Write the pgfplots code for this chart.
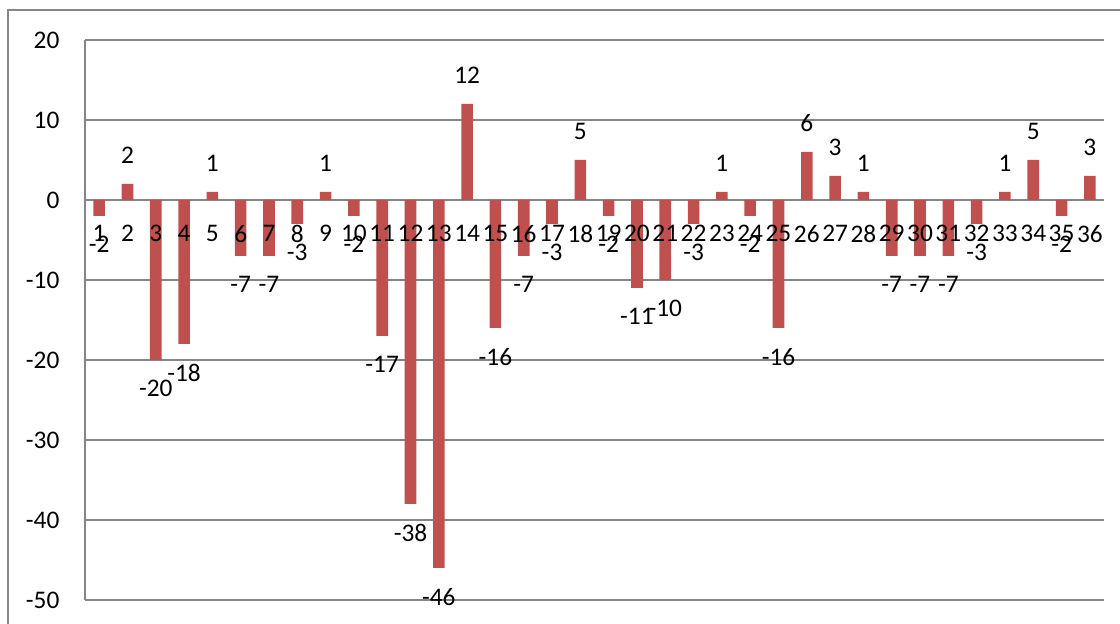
\documentclass[border=0pt]{standalone}
\usepackage{pgfplots}
\pgfplotsset{compat=1.18}
\usepackage{fontspec}
\setmainfont{Carlito}
\definecolor{barred}{HTML}{C0504D}
\definecolor{linegray}{HTML}{868686}

% shared geometry of the plot area
\pgfplotsset{
  chartbox/.style={
    at={(63.75pt,18pt)}, anchor=south west,
    scale only axis, width=764.25pt, height=420pt,
    xmin=0.5, xmax=36.5, ymin=-50, ymax=20,
    major tick length=0pt,
    tick label style={font=\fontsize{19}{22}\selectfont},
    /pgf/number format/assume math mode=true,
    hide obscured x ticks=false, hide obscured y ticks=false,
    clip=false,
  },
}

\begin{document}
\begin{tikzpicture}[x=1pt,y=1pt]
% chart frame, running off the right and bottom edges
\draw[linegray, line width=0.9pt] (842,460.5) -- (6,460.5) -- (6,-2);
% grid, value axis and bars
\begin{axis}[
  chartbox,
  ytick={-50,-40,...,20},
  xtick={1,...,36}, xticklabels={},
  axis x line=middle, axis y line=left,
  axis line style={-, draw=linegray, line width=1pt},
  ymajorgrids, grid style={draw=linegray, line width=1pt},
  yticklabel style={anchor=east, inner xsep=0pt, xshift=-19pt},
  ybar, bar width=8.7pt,
  nodes near coords,
  nodes near coords style={font=\fontsize{19}{22}\selectfont, inner ysep=15pt, inner xsep=0pt, text=black},
]
\addplot[fill=barred, draw=none] coordinates {
  (1,-2) (2,2) (3,-20) (4,-18) (5,1) (6,-7) (7,-7) (8,-3) (9,1)
  (10,-2) (11,-17) (12,-38) (13,-46) (14,12) (15,-16) (16,-7) (17,-3) (18,5)
  (19,-2) (20,-11) (21,-10) (22,-3) (23,1) (24,-2) (25,-16) (26,6) (27,3)
  (28,1) (29,-7) (30,-7) (31,-7) (32,-3) (33,1) (34,5) (35,-2) (36,3)
};
\end{axis}
% category labels on top of the bars
\begin{axis}[
  chartbox,
  axis x line=middle, axis y line=none,
  axis line style={draw=none},
  ytick=\empty,
  xtick={1,...,36},
  xticklabel style={anchor=north, inner ysep=0pt, yshift=-18.75pt},
]
\end{axis}
\pgfresetboundingbox
\path[use as bounding box] (0,0) rectangle (840,468);
\end{tikzpicture}
\end{document}
